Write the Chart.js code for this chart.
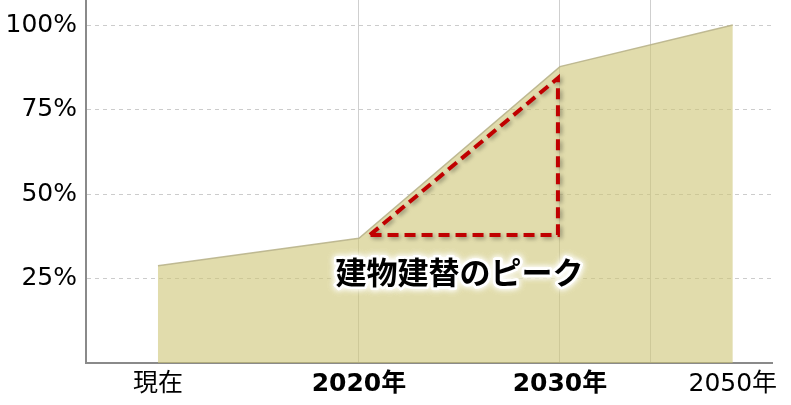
<!DOCTYPE html>
<html>
<head>
<meta charset="utf-8">
<script src="https://cdn.jsdelivr.net/npm/chart.js@4"></script>
<style>
  html, body { margin: 0; padding: 0; background: #fff; }
  #wrap { width: 791px; height: 405px; }
</style>
</head>
<body>
<div id="wrap"><canvas id="peakChart"></canvas></div>
<script>
// Data
const categories = ['現在', '2020年', '2030年', '2050年'];
const timeline = [0, 1, 2, 2.86];          // position of each period on the x axis
const boldCategory = [false, true, true, false];
const shares = [28.8, 36.9, 87.7, 100];    // %
const extraGridAt = [2.45];                // unlabeled vertical gridline
const yTicks = [25, 50, 75, 100];

// Peak annotation (triangle corners in data units) and its label
const peakX = [1.055, 1.99];
const peakY = [37.9, 84.3];
const peakLabel = '建物建替のピーク';
const peakLabelAt = { x: 1.5, y: 26.9 };

const fontFamily = "'DejaVu Sans', 'Noto Sans CJK JP', sans-serif";

const peakPlugin = {
    id: 'peakPlugin',
    afterDatasetsDraw(chart) {
        const ctx = chart.ctx;
        const xs = chart.scales.x, ys = chart.scales.y;
        const x0 = xs.getPixelForValue(peakX[0]);
        const x1 = xs.getPixelForValue(peakX[1]);
        const y0 = ys.getPixelForValue(peakY[0]);
        const y1 = ys.getPixelForValue(peakY[1]);

        // dashed triangle
        ctx.save();
        ctx.shadowColor = 'rgba(0,0,0,0.35)';
        ctx.shadowBlur = 4;
        ctx.shadowOffsetX = 2;
        ctx.shadowOffsetY = 2;
        ctx.strokeStyle = '#c00000';
        ctx.lineWidth = 4;
        ctx.setLineDash([11, 6]);
        ctx.beginPath();
        ctx.moveTo(x0, y0);
        ctx.lineTo(x1, y1);
        ctx.lineTo(x1, y0);
        ctx.closePath();
        ctx.stroke();
        ctx.restore();

        // label with white glow
        const tx = xs.getPixelForValue(peakLabelAt.x);
        const ty = ys.getPixelForValue(peakLabelAt.y);
        ctx.save();
        ctx.font = "bold 31px 'Noto Sans CJK JP', sans-serif";
        ctx.textAlign = 'center';
        ctx.textBaseline = 'middle';
        ctx.shadowColor = '#ffffff';
        ctx.shadowBlur = 6;
        ctx.strokeStyle = '#ffffff';
        ctx.lineWidth = 5;
        ctx.lineJoin = 'round';
        ctx.strokeText(peakLabel, tx, ty);
        ctx.strokeText(peakLabel, tx, ty);
        ctx.shadowBlur = 0;
        ctx.fillStyle = '#000000';
        ctx.fillText(peakLabel, tx, ty);
        ctx.restore();
    }
};

const chartCtx = document.getElementById('peakChart').getContext('2d');
const peakChart = new Chart(chartCtx, {
    type: 'line',
    data: {
        datasets: [{
            data: timeline.map((t, i) => ({ x: t, y: shares[i] })),
            borderColor: 'rgba(185, 180, 140, 0.9)',
            backgroundColor: 'rgba(205, 197, 117, 0.6)',
            borderWidth: 1.5,
            fill: 'origin',
            tension: 0,
            pointRadius: 0
        }]
    },
    options: {
        responsive: true,
        maintainAspectRatio: false,
        animation: false,
        layout: { padding: { left: 3, right: 19, top: 0, bottom: 2 } },
        plugins: {
            legend: { display: false },
            tooltip: { enabled: false }
        },
        scales: {
            x: {
                type: 'linear',
                min: -0.358,
                max: 3.055,
                afterBuildTicks: function(axis) {
                    axis.ticks = timeline.concat(extraGridAt)
                        .sort((a, b) => a - b)
                        .map(v => ({ value: v }));
                },
                afterFit: function(axis) {
                    axis.height = 40;
                    axis.paddingLeft = 0;
                    axis.paddingRight = 0;
                },
                grid: {
                    drawTicks: false,
                    lineWidth: 1,
                    color: function(ctx) {
                        const v = ctx.tick ? ctx.tick.value : null;
                        if (v === timeline[0] || v === timeline[timeline.length - 1]) return 'rgba(0,0,0,0)';
                        return '#cfcfcf';
                    }
                },
                border: { color: '#8a8a8a', width: 2 },
                ticks: {
                    padding: 6,
                    maxRotation: 0,
                    autoSkip: false,
                    color: '#000',
                    font: function(ctx) {
                        const i = ctx.tick ? timeline.indexOf(ctx.tick.value) : -1;
                        return { family: fontFamily, size: 25, weight: (i >= 0 && boldCategory[i]) ? 'bold' : 'normal' };
                    },
                    callback: function(value) {
                        const i = timeline.indexOf(value);
                        return i >= 0 ? categories[i] : '';
                    }
                }
            },
            y: {
                min: 0,
                max: 107.4,
                afterBuildTicks: function(axis) {
                    axis.ticks = yTicks.map(v => ({ value: v }));
                },
                afterFit: function(axis) {
                    axis.width = 83;
                    axis.paddingTop = 0;
                    axis.paddingBottom = 0;
                },
                grid: {
                    drawTicks: false,
                    color: '#cccccc',
                    lineWidth: 1
                },
                border: { color: '#8a8a8a', width: 2, dash: [4, 4] },
                ticks: {
                    padding: 9,
                    color: '#000',
                    font: { family: fontFamily, size: 25 },
                    callback: function(value) { return value + '%'; }
                }
            }
        }
    },
    plugins: [peakPlugin]
});
</script>
</body>
</html>
